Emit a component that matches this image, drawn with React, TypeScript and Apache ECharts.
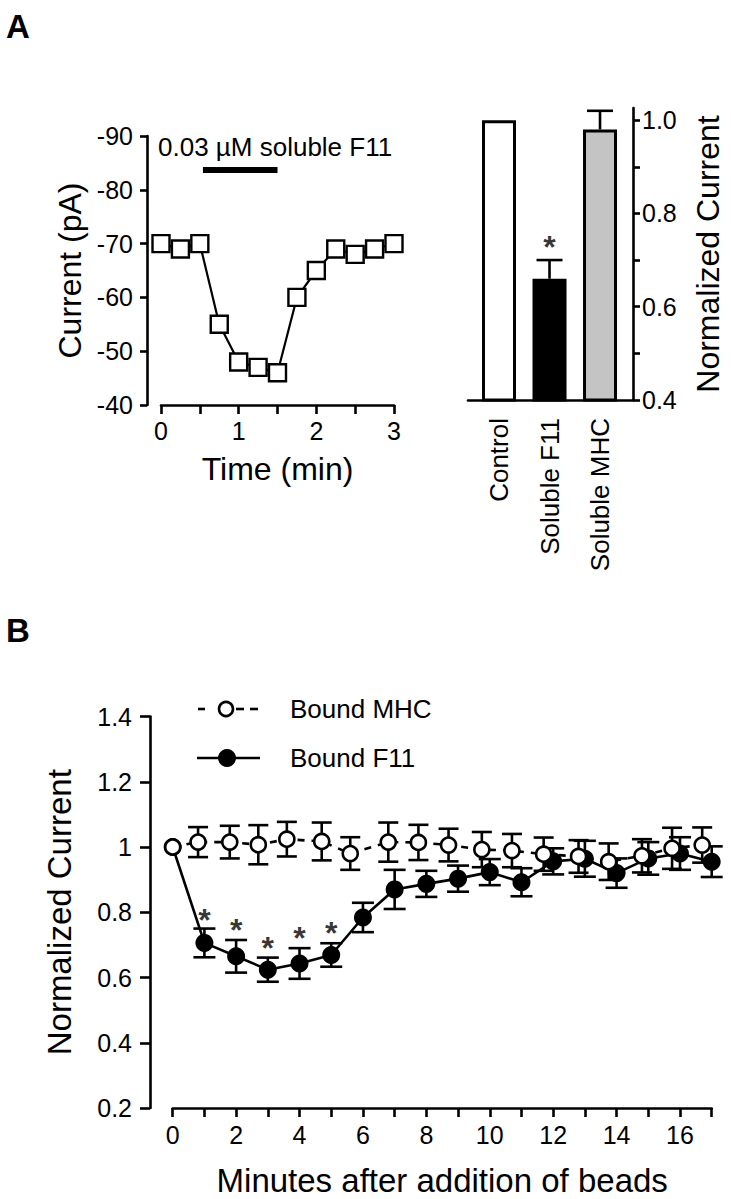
import React, { useEffect, useRef } from 'react';
import * as echarts from 'echarts';

const FONT = '"Liberation Sans", Arial, Helvetica, sans-serif';

// ---------- Panel A (left): current trace ----------
const timeMin = [0, 0.25, 0.5, 0.75, 1, 1.25, 1.5, 1.75, 2, 2.25, 2.5, 2.75, 3];
const currentPA = [-70, -69, -70, -55, -48, -47, -46, -60, -65, -69, -68, -69, -70];
const drugWindow = [0.54, 1.5];
const drugLevel = -83.7;
const drugLabel = '0.03 µM soluble F11';
const timeTicks = [0, 0.5, 1, 1.5, 2, 2.5, 3];
const timeLabels = [0, 1, 2, 3];

// ---------- Panel A (right): normalized bars ----------
const barCategories = ['Control', 'Soluble F11', 'Soluble MHC'];
const barValues = [1.0, 0.66, 0.98];
const barErrors = [0, 0.04, 0.04];
const barColors = ['#ffffff', '#000000', '#c4c4c4'];
const barStars = [[1, 0.745]];
const normTicks = [0.4, 0.5, 0.6, 0.7, 0.8, 0.9, 1.0];
const normLabels = [0.4, 0.6, 0.8, 1.0];

// ---------- Panel B: time course ----------
const f11Min = [0, 1, 2, 3, 4, 5, 6, 7, 8, 9, 10, 11, 12, 13, 14, 15, 16, 17];
const f11Val = [1.0, 0.706, 0.665, 0.624, 0.643, 0.669, 0.784, 0.87, 0.887, 0.903, 0.923, 0.892, 0.956, 0.964, 0.92, 0.965, 0.98, 0.955];
const f11Err = [0, 0.044, 0.05, 0.037, 0.047, 0.036, 0.045, 0.06, 0.04, 0.04, 0.04, 0.043, 0.04, 0.055, 0.045, 0.05, 0.05, 0.047];
const mhcMin = [0, 0.8, 1.8, 2.7, 3.6, 4.7, 5.6, 6.8, 7.75, 8.7, 9.75, 10.7, 11.7, 12.8, 13.75, 14.8, 15.75, 16.7];
const mhcVal = [1.0, 1.015, 1.015, 1.007, 1.024, 1.017, 0.98, 1.015, 1.014, 1.006, 0.992, 0.989, 0.978, 0.971, 0.955, 0.973, 0.996, 1.006];
const mhcErr = [0, 0.046, 0.05, 0.06, 0.053, 0.058, 0.05, 0.06, 0.054, 0.05, 0.054, 0.051, 0.051, 0.05, 0.056, 0.051, 0.063, 0.054];
const sigMin = [1, 2, 3, 4, 5];
const sigY = [0.8, 0.771, 0.716, 0.747, 0.761];
const minuteTicks = [0, 1, 2, 3, 4, 5, 6, 7, 8, 9, 10, 11, 12, 13, 14, 15, 16, 17];
const minuteLabels = [0, 2, 4, 6, 8, 10, 12, 14, 16];

const BLACK = '#000';

function errorRenderer(capHalf: number, upOnly: boolean) {
  return (params: any, api: any) => {
    const x = api.value(0);
    const y = api.value(1);
    const e = api.value(2);
    const top = api.coord([x, y + e]);
    const bot = api.coord([x, upOnly ? y : y - e]);
    const st = { stroke: BLACK, lineWidth: 2.6 };
    const children: any[] = [
      { type: 'line', shape: { x1: top[0], y1: top[1], x2: bot[0], y2: bot[1] }, style: st },
      { type: 'line', shape: { x1: top[0] - capHalf, y1: top[1], x2: top[0] + capHalf, y2: top[1] }, style: st },
    ];
    if (!upOnly) {
      children.push({ type: 'line', shape: { x1: bot[0] - capHalf, y1: bot[1], x2: bot[0] + capHalf, y2: bot[1] }, style: st });
    }
    return { type: 'group', children };
  };
}

function withError(xs: number[], ys: number[], es: number[]) {
  const out: number[][] = [];
  xs.forEach((x, i) => {
    if (es[i] > 0) out.push([x, ys[i], es[i]]);
  });
  return out;
}

export default function App() {
  const ref = useRef<HTMLDivElement>(null);
  useEffect(() => {
    if (!ref.current) return;
    const chart = echarts.init(ref.current, undefined, { renderer: 'svg' });
    const axisLine = { show: true, onZero: false, lineStyle: { color: BLACK, width: 2.6 } };
    const tickStyle = { color: BLACK, width: 2.6 };
    const labelBase = { color: BLACK, fontFamily: FONT, fontSize: 25 };
    const nameBase = { color: BLACK, fontFamily: FONT, fontSize: 32 };
    const starLabel = {
      show: true, position: 'inside', formatter: '*', color: BLACK,
      fontFamily: FONT, fontSize: 32, fontWeight: 'bold', offset: [0, 8],
    };

    const option: any = {
      animation: false,
      backgroundColor: '#ffffff',
      textStyle: { fontFamily: FONT },
      grid: [
        { left: 161, top: 136, width: 233, height: 269 },
        { left: 468, top: 108, width: 165, height: 292 },
        { left: 172.7, top: 716.5, width: 539, height: 391.5 },
      ],
      xAxis: [
        {
          gridIndex: 0, type: 'value', min: 0, max: 3, interval: 0.5,
          axisLine, splitLine: { show: false },
          axisTick: { show: true, length: 9, lineStyle: tickStyle, customValues: timeTicks },
          axisLabel: { ...labelBase, margin: 13, customValues: timeLabels },
          name: 'Time (min)', nameLocation: 'middle', nameGap: 48, nameTextStyle: nameBase,
        },
        {
          gridIndex: 1, type: 'value', min: -0.614, max: 2.653,
          axisLine, splitLine: { show: false }, axisTick: { show: false },
          axisLabel: {
            ...labelBase, fontSize: 26, rotate: 90, margin: 18, customValues: [0, 1, 2],
            formatter: (v: number) => barCategories[Math.round(v)] ?? '',
          },
        },
        {
          gridIndex: 2, type: 'value', min: 0, max: 17, interval: 1,
          axisLine, splitLine: { show: false },
          axisTick: { show: true, length: 9, lineStyle: tickStyle, customValues: minuteTicks },
          axisLabel: { ...labelBase, margin: 14, customValues: minuteLabels },
          name: 'Minutes after addition of beads', nameLocation: 'middle', nameGap: 56,
          nameTextStyle: { ...nameBase, fontSize: 33 },
        },
      ],
      yAxis: [
        {
          gridIndex: 0, type: 'value', min: -90, max: -40, interval: 10, inverse: true, offset: 14,
          axisLine, splitLine: { show: false },
          axisTick: { show: true, length: 7, lineStyle: tickStyle },
          axisLabel: { ...labelBase, margin: 14 },
          name: 'Current (pA)', nameLocation: 'middle', nameGap: 61, nameRotate: 90, nameTextStyle: nameBase,
        },
        {
          gridIndex: 1, type: 'value', position: 'right', min: 0.4, max: 1.026,
          axisLine, splitLine: { show: false },
          axisTick: { show: true, length: 7, lineStyle: tickStyle, customValues: normTicks },
          axisLabel: { ...labelBase, margin: 9, customValues: normLabels, formatter: (v: number) => v.toFixed(1) },
          name: 'Normalized Current', nameLocation: 'middle', nameGap: 59, nameRotate: 90, nameTextStyle: nameBase,
        },
        {
          gridIndex: 2, type: 'value', min: 0.2, max: 1.4, interval: 0.2, offset: 22.7,
          axisLine, splitLine: { show: false },
          axisTick: { show: true, length: 10, lineStyle: tickStyle },
          axisLabel: { ...labelBase, margin: 18 },
          name: 'Normalized Current', nameLocation: 'middle', nameGap: 74, nameRotate: 90,
          nameTextStyle: { ...nameBase, fontSize: 33 },
        },
      ],
      series: [
        // Panel A left
        {
          type: 'line', xAxisIndex: 0, yAxisIndex: 0, z: 3,
          data: timeMin.map((t, i) => [t, currentPA[i]]),
          symbol: 'rect', symbolSize: 17,
          lineStyle: { color: BLACK, width: 2.2 },
          itemStyle: { color: '#fff', borderColor: BLACK, borderWidth: 2.4 },
        },
        {
          type: 'line', xAxisIndex: 0, yAxisIndex: 0, z: 2, symbol: 'none',
          data: drugWindow.map((t) => [t, drugLevel]),
          lineStyle: { color: BLACK, width: 6, cap: 'butt' },
        },
        // Panel A right
        {
          type: 'bar', xAxisIndex: 1, yAxisIndex: 1, barWidth: 34, z: 2,
          data: barValues.map((v, i) => ({
            value: [i, v],
            itemStyle: { color: barColors[i], borderColor: BLACK, borderWidth: 3 },
          })),
        },
        {
          type: 'custom', xAxisIndex: 1, yAxisIndex: 1, z: 3, clip: false,
          renderItem: errorRenderer(13, true),
          encode: { x: 0, y: 1 },
          data: withError([0, 1, 2], barValues, barErrors),
        },
        {
          type: 'scatter', xAxisIndex: 1, yAxisIndex: 1, symbolSize: 1, z: 4,
          itemStyle: { color: 'rgba(0,0,0,0)' },
          label: starLabel,
          data: barStars,
        },
        // Panel B
        {
          type: 'custom', xAxisIndex: 2, yAxisIndex: 2, z: 2, clip: false,
          renderItem: errorRenderer(11, false), encode: { x: 0, y: 1 },
          data: withError(f11Min, f11Val, f11Err),
        },
        {
          type: 'custom', xAxisIndex: 2, yAxisIndex: 2, z: 2, clip: false,
          renderItem: errorRenderer(10, false), encode: { x: 0, y: 1 },
          data: withError(mhcMin, mhcVal, mhcErr),
        },
        {
          name: 'Bound F11', type: 'line', xAxisIndex: 2, yAxisIndex: 2, z: 3,
          data: f11Min.map((m, i) => [m, f11Val[i]]),
          symbol: 'circle', symbolSize: 18,
          lineStyle: { color: BLACK, width: 2.6 },
          itemStyle: { color: BLACK, borderColor: BLACK, borderWidth: 0 },
        },
        {
          name: 'Bound MHC', type: 'line', xAxisIndex: 2, yAxisIndex: 2, z: 4,
          data: mhcMin.map((m, i) => [m, mhcVal[i]]),
          symbol: 'circle', symbolSize: 15,
          lineStyle: { color: BLACK, width: 2.6, type: [7, 7], dashOffset: 0 },
          itemStyle: { color: '#fff', borderColor: BLACK, borderWidth: 2.6 },
        },
        {
          type: 'scatter', xAxisIndex: 2, yAxisIndex: 2, symbolSize: 1, z: 5,
          itemStyle: { color: 'rgba(0,0,0,0)' },
          label: starLabel,
          data: sigMin.map((m, i) => [m, sigY[i]]),
        },
      ],
      graphic: [
        { type: 'text', left: 6, top: 10, style: { text: 'A', font: `bold 33px ${FONT}`, fill: BLACK } },
        { type: 'text', left: 6, top: 614, style: { text: 'B', font: `bold 33px ${FONT}`, fill: BLACK } },
        {
          type: 'text', x: 158, y: 147,
          style: { text: drugLabel, font: `26px ${FONT}`, fill: BLACK, textVerticalAlign: 'middle', textAlign: 'left' },
        },
        // legend: Bound MHC
        { type: 'line', shape: { x1: 198, y1: 709, x2: 205, y2: 709 }, style: { stroke: BLACK, lineWidth: 2.6 } },
        { type: 'line', shape: { x1: 236, y1: 709, x2: 244, y2: 709 }, style: { stroke: BLACK, lineWidth: 2.6 } },
        { type: 'line', shape: { x1: 250, y1: 709, x2: 258, y2: 709 }, style: { stroke: BLACK, lineWidth: 2.6 } },
        { type: 'circle', shape: { cx: 226, cy: 709, r: 7 }, style: { fill: '#fff', stroke: BLACK, lineWidth: 2.6 } },
        {
          type: 'text', x: 290, y: 709,
          style: { text: 'Bound MHC', font: `26px ${FONT}`, fill: BLACK, textVerticalAlign: 'middle' },
        },
        // legend: Bound F11
        { type: 'line', shape: { x1: 197, y1: 758, x2: 260, y2: 758 }, style: { stroke: BLACK, lineWidth: 2.6 } },
        { type: 'circle', shape: { cx: 227, cy: 758, r: 9 }, style: { fill: BLACK } },
        {
          type: 'text', x: 290, y: 758,
          style: { text: 'Bound F11', font: `26px ${FONT}`, fill: BLACK, textVerticalAlign: 'middle' },
        },
      ],
    };
    chart.setOption(option);
    return () => chart.dispose();
  }, []);
  return (
    <div
      ref={ref}
      style={{ position: 'absolute', left: 0, top: 0, width: 731, height: 1199, background: '#fff' }}
    />
  );
}
